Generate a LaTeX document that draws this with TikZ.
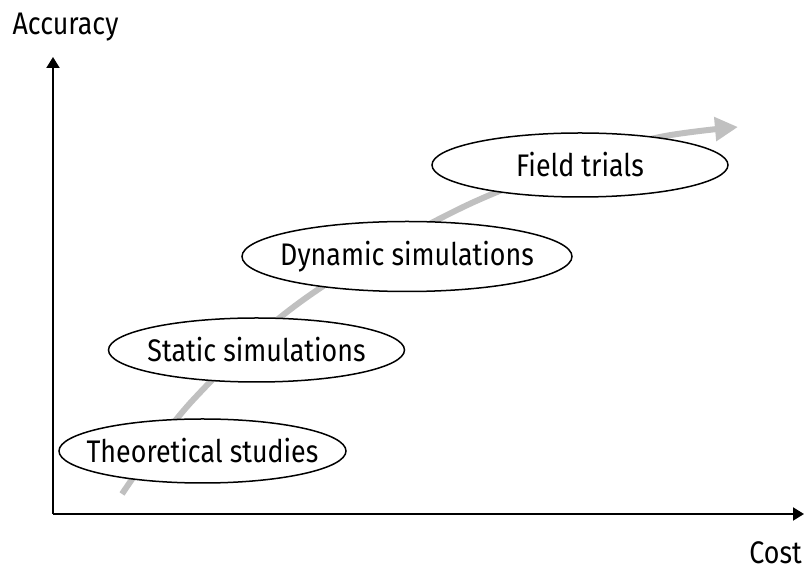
\documentclass[tikz,border=0pt]{standalone}
\usepackage{fontspec}
\setmainfont{Fira Sans}[FakeStretch=0.86]
\usetikzlibrary{arrows.meta,shapes.geometric}
\definecolor{trendgray}{RGB}{192,192,192}
\tikzset{
  axis/.style={line width=1pt,-{Triangle[length=5.5pt,width=6.5pt]}},
  trend/.style={line width=3pt,trendgray,-{Triangle[length=11.5pt,width=11.5pt]}},
  stage/.style={draw,ellipse,fill=white,line width=0.75pt,inner sep=0pt,
    minimum width=148pt,minimum height=32pt},
  lbl/.style={font=\fontsize{15.6}{18}\selectfont}
}
\begin{document}
\begin{tikzpicture}[x=0.5pt,y=-0.5pt]
		\useasboundingbox (0,0) rectangle (805,571);
		\coordinate (O) at (53,514);
		\coordinate (ytip) at (53,57);
		\coordinate (xtip) at (804,514);
		% axes
		\draw[axis] (O) -- (ytip);
		\draw[axis] (O) -- (xtip);
		\node[lbl,anchor=base,inner sep=1pt] (acc) at (65.5,35) {Accuracy};
		\node[lbl,anchor=base,inner sep=0pt] (cost) at (775.5,564) {Cost};
		% trend behind the stages
		\draw[trend] plot[smooth,tension=0.6] coordinates {(122,494) (193,400) (303,300) (457,210) (590,158) (660,137) (738,127)};
		% stages
		\node[stage,lbl,minimum width=143.5pt] (theo) at (202.5,451) {\makebox[0pt]{Theoretical studies}};
		\node[stage,lbl] (stat) at (256.5,350) {\makebox[0pt]{Static simulations}};
		\node[stage,lbl,minimum width=165pt,minimum height=35pt] (dyn) at (407,256.5) {\makebox[0pt]{Dynamic simulations}};
		\node[stage,lbl] (field) at (580,165) {\makebox[0pt]{Field trials}};
\end{tikzpicture}
\end{document}
